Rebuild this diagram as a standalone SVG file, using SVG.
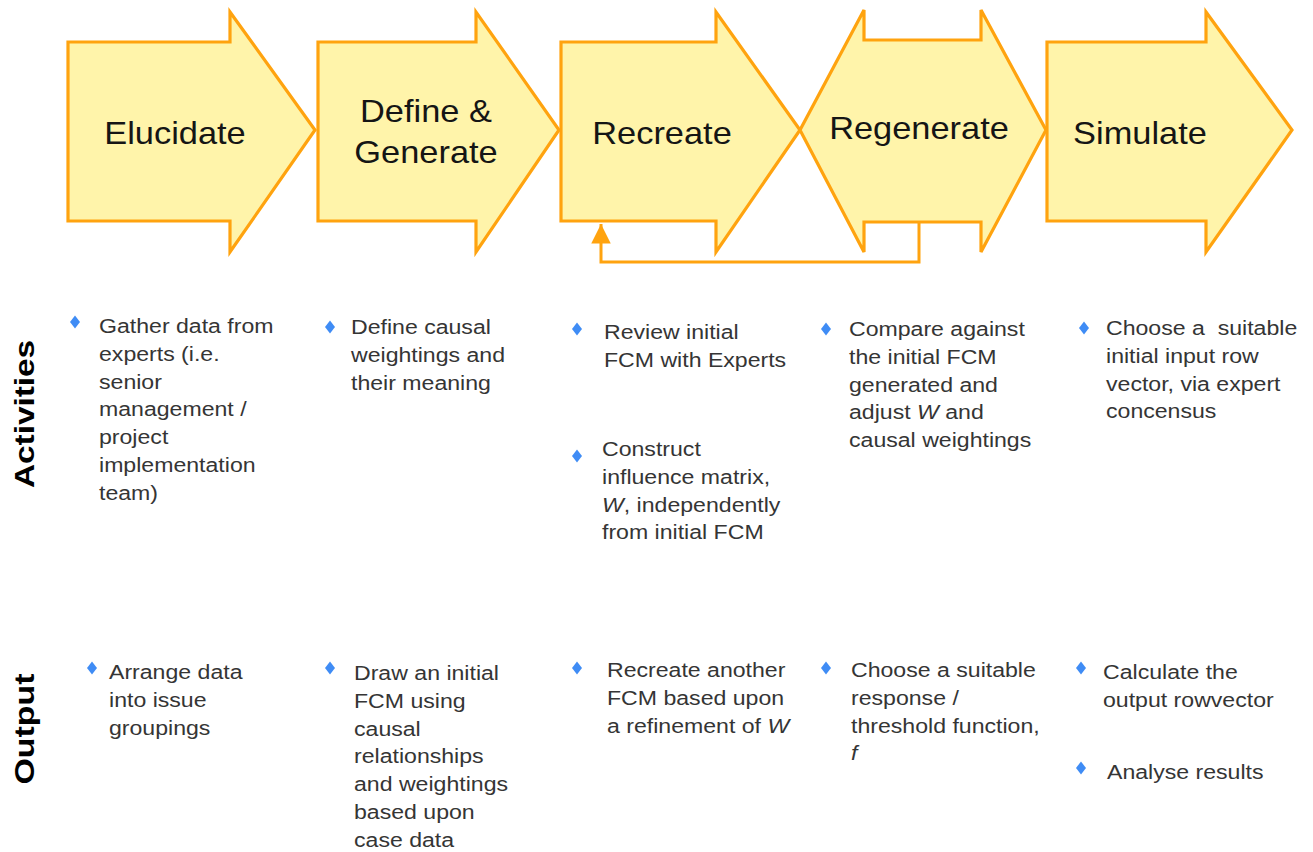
<svg xmlns="http://www.w3.org/2000/svg" xmlns:xlink="http://www.w3.org/1999/xlink" width="1313" height="852" viewBox="0 0 1313 852">
<style>
.shape{fill:#FFF4AA;stroke:#FFA30F;stroke-width:3.2;stroke-linejoin:miter}
.title{font-family:"Liberation Sans",Arial,sans-serif;font-size:31px;fill:#151515;text-anchor:middle}
.txt{font-family:"Liberation Sans",Arial,sans-serif;font-size:21px;fill:#353535}
.lbl{font-family:"Liberation Sans",Arial,sans-serif;font-size:28px;font-weight:bold;fill:#000;text-anchor:middle}
.conn{fill:none;stroke:#FFA30F;stroke-width:3}
.bul{fill:#3F8CF5}
</style>
<defs>
<path id="dia" d="M0,-6.5 L5,0 L0,6.5 L-5,0 Z"/>
<marker id="ah" viewBox="0 0 10 10" refX="10" refY="5" markerWidth="6.5" markerHeight="6.5" markerUnits="strokeWidth" orient="auto">
<path d="M0,0 L10,5 L0,10 Z" fill="#FFA30F"/>
</marker>
</defs>

<g id="connectors">
<path class="conn" d="M919,222 L919,262 L601,262 L601,224" marker-end="url(#ah)"/>
</g>

<g id="node-elucidate">
<polygon class="shape" points="68,42 230,42 230,12 315,130 230,252 230,221 68,221"/>
<text class="title" transform="translate(175,144) scale(1.11,1)">Elucidate</text>
</g>
<g id="node-define">
<polygon class="shape" points="318,42 476,42 476,12 559,130 476,252 476,221 318,221"/>
<text class="title" transform="translate(426,122) scale(1.11,1)">Define &amp;</text>
<text class="title" transform="translate(426,163) scale(1.11,1)">Generate</text>
</g>
<g id="node-recreate">
<polygon class="shape" points="561,42 716,42 716,12 800,130 716,252 716,221 561,221"/>
<text class="title" transform="translate(662,144) scale(1.11,1)">Recreate</text>
</g>
<g id="node-regenerate">
<polygon class="shape" points="800,130 864,10 864,40 981,40 981,10 1046,130 981,252 981,222 864,222 864,252"/>
<text class="title" transform="translate(919,139) scale(1.11,1)">Regenerate</text>
</g>
<g id="node-simulate">
<polygon class="shape" points="1047,42 1206,42 1206,12 1292,130 1206,252 1206,221 1047,221"/>
<text class="title" transform="translate(1140,144) scale(1.11,1)">Simulate</text>
</g>

<g id="label-activities">
<text class="lbl" transform="translate(34,414) rotate(-90) scale(1.19,1)">Activities</text>
</g>
<g id="label-output">
<text class="lbl" transform="translate(34,729) rotate(-90) scale(1.21,1)">Output</text>
</g>

<g id="act-1">
<use href="#dia" class="bul" x="75" y="322"/>
<text class="txt" transform="translate(99,333) scale(1.1,1)"><tspan x="0" y="0">Gather data from</tspan><tspan x="0" y="27.8">experts (i.e.</tspan><tspan x="0" y="55.6">senior</tspan><tspan x="0" y="83.4">management /</tspan><tspan x="0" y="111.2">project</tspan><tspan x="0" y="139">implementation</tspan><tspan x="0" y="166.8">team)</tspan></text>
</g>
<g id="act-2">
<use href="#dia" class="bul" x="330" y="327"/>
<text class="txt" transform="translate(351,334) scale(1.1,1)"><tspan x="0" y="0">Define causal</tspan><tspan x="0" y="27.8">weightings and</tspan><tspan x="0" y="55.6">their meaning</tspan></text>
</g>
<g id="act-3">
<use href="#dia" class="bul" x="577" y="329"/>
<text class="txt" transform="translate(604,339) scale(1.1,1)"><tspan x="0" y="0">Review initial</tspan><tspan x="0" y="27.8">FCM with Experts</tspan></text>
<use href="#dia" class="bul" x="577" y="456"/>
<text class="txt" transform="translate(602,456) scale(1.1,1)"><tspan x="0" y="0">Construct</tspan><tspan x="0" y="27.8">influence matrix,</tspan><tspan x="0" y="55.6"><tspan font-style="italic">W</tspan>, independently</tspan><tspan x="0" y="83.4">from initial FCM</tspan></text>
</g>
<g id="act-4">
<use href="#dia" class="bul" x="826" y="329"/>
<text class="txt" transform="translate(849,336) scale(1.1,1)"><tspan x="0" y="0">Compare against</tspan><tspan x="0" y="27.8">the initial FCM</tspan><tspan x="0" y="55.6">generated and</tspan><tspan x="0" y="83.4">adjust <tspan font-style="italic">W</tspan> and</tspan><tspan x="0" y="111.2">causal weightings</tspan></text>
</g>
<g id="act-5">
<use href="#dia" class="bul" x="1084" y="328"/>
<text class="txt" xml:space="preserve" transform="translate(1106,335) scale(1.1,1)"><tspan x="0" y="0">Choose a  suitable</tspan><tspan x="0" y="27.8">initial input row</tspan><tspan x="0" y="55.6">vector, via expert</tspan><tspan x="0" y="83.4">concensus</tspan></text>
</g>

<g id="out-1">
<use href="#dia" class="bul" x="92" y="668"/>
<text class="txt" transform="translate(109,679) scale(1.1,1)"><tspan x="0" y="0">Arrange data</tspan><tspan x="0" y="27.8">into issue</tspan><tspan x="0" y="55.6">groupings</tspan></text>
</g>
<g id="out-2">
<use href="#dia" class="bul" x="330" y="668"/>
<text class="txt" transform="translate(354,680) scale(1.1,1)"><tspan x="0" y="0">Draw an initial</tspan><tspan x="0" y="27.8">FCM using</tspan><tspan x="0" y="55.6">causal</tspan><tspan x="0" y="83.4">relationships</tspan><tspan x="0" y="111.2">and weightings</tspan><tspan x="0" y="139">based upon</tspan><tspan x="0" y="166.8">case data</tspan></text>
</g>
<g id="out-3">
<use href="#dia" class="bul" x="577" y="668"/>
<text class="txt" transform="translate(607,677) scale(1.1,1)"><tspan x="0" y="0">Recreate another</tspan><tspan x="0" y="27.8">FCM based upon</tspan><tspan x="0" y="55.6">a refinement of <tspan font-style="italic">W</tspan></tspan></text>
</g>
<g id="out-4">
<use href="#dia" class="bul" x="826" y="668"/>
<text class="txt" transform="translate(851,677) scale(1.1,1)"><tspan x="0" y="0">Choose a suitable</tspan><tspan x="0" y="27.8">response /</tspan><tspan x="0" y="55.6">threshold function,</tspan><tspan x="0" y="83.4" font-style="italic">f</tspan></text>
</g>
<g id="out-5">
<use href="#dia" class="bul" x="1081" y="668"/>
<text class="txt" transform="translate(1103,679) scale(1.1,1)"><tspan x="0" y="0">Calculate the</tspan><tspan x="0" y="27.8">output rowvector</tspan></text>
<use href="#dia" class="bul" x="1081" y="768"/>
<text class="txt" transform="translate(1107,779) scale(1.1,1)">Analyse results</text>
</g>
</svg>
